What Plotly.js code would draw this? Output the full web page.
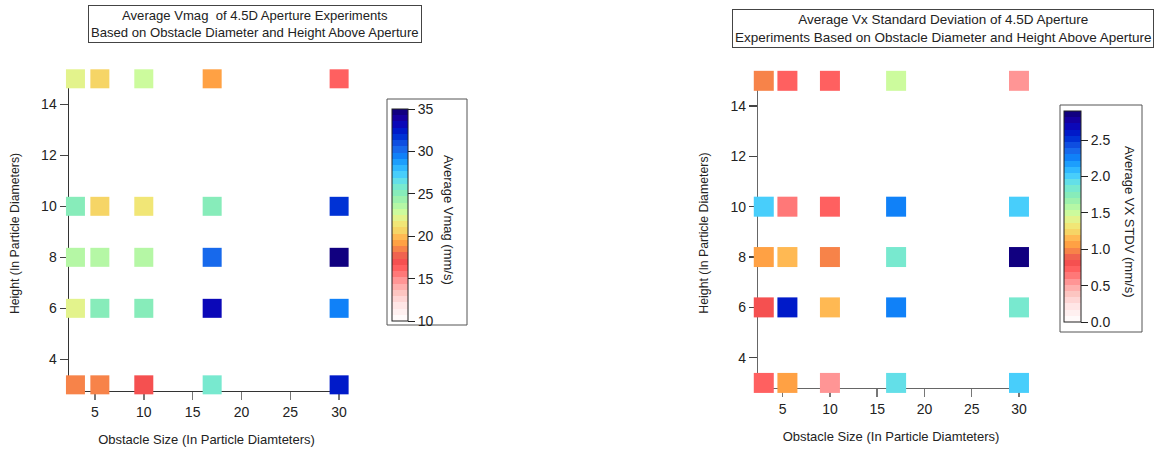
<!DOCTYPE html>
<html>
<head>
<meta charset="utf-8">
<script src="https://cdn.plot.ly/plotly-3.0.1.min.js"></script>
<style>
  html, body { margin: 0; padding: 0; background: #fff; }
  #chart { width: 1154px; height: 450px; }
</style>
</head>
<body>
<div id="chart"></div>
<script>
// ---- data ----
const obstacleSizes = [3, 5.5, 10, 17, 30];       // x, in particle diameters
const heights = [3, 6, 8, 10, 15];                 // y, height above aperture
// Average Vmag (mm/s), one row per height, columns follow obstacleSizes
const vmag = [
  [18.1, 18.1, 17.2, 25.5, 32.5],   // h = 3
  [22.2, 24.9, 24.9, 33.5, 29.5],   // h = 6
  [23.7, 23.7, 23.7, 30.3, 35.0],   // h = 8
  [24.9, 20.7, 21.5, 24.8, 31.8],   // h = 10
  [22.2, 20.7, 23.0, 19.0, 16.5]    // h = 15
];
// Average Vx standard deviation (mm/s)
const vxStdv = [
  [0.75, 1.04, 0.52, 1.94, 2.03],   // h = 3
  [0.84, 2.61, 1.16, 2.26, 1.87],   // h = 6
  [1.04, 1.16, 0.94, 1.80, 2.90],   // h = 8
  [2.03, 0.62, 0.75, 2.26, 2.03],   // h = 10
  [0.94, 0.75, 0.75, 1.49, 0.52]    // h = 15
];
const titleLeft = "Average Vmag\u00a0 of 4.5D Aperture Experiments<br>Based on Obstacle Diameter and Height Above Aperture";
const titleRight = "Average Vx Standard Deviation of 4.5D Aperture<br>Experiments Based on Obstacle Diameter and Height Above Aperture";
const xTitle = "Obstacle Size (In Particle Diamteters)";
const yTitle = "Height (In Particle Diameters)";
const cbTitleLeft = "Average Vmag (mm/s)";
const cbTitleRight = "Average VX STDV (mm/s)";

// ---- styling ----
const W = 1154, H = 450;
const FONT = "Liberation Sans, Arial, sans-serif";
const anchors = [
  [0.00, '#ffffff'], [0.08, '#ffe4e4'], [0.14, '#fcc0bc'], [0.18, '#ffa0a0'],
  [0.22, '#ff7878'], [0.26, '#ff5858'], [0.29, '#f04c4c'], [0.32, '#f07050'],
  [0.36, '#ff9a40'], [0.40, '#ffbc55'], [0.43, '#f5d868'], [0.46, '#f0e878'],
  [0.49, '#e0f590'], [0.52, '#c8fca0'], [0.56, '#a8f4a8'], [0.60, '#88ecb8'],
  [0.64, '#74e8d4'], [0.67, '#5cdcf0'], [0.70, '#40c8ff'], [0.74, '#20a8ff'],
  [0.78, '#1080f8'], [0.82, '#1a60e8'], [0.86, '#0038d8'], [0.90, '#0018c8'],
  [0.94, '#1000b0'], [0.97, '#1a0090'], [1.00, '#080070']
];
// stepped (banded) colour table like the original colour scale
function hex2rgb(h) { return [1, 3, 5].map(i => parseInt(h.substr(i, 2), 16)); }
function colorAt(t) {
  for (let i = 0; i < anchors.length - 1; i++) {
    const [t0, c0] = anchors[i], [t1, c1] = anchors[i + 1];
    if (t >= t0 && t <= t1) {
      const f = (t - t0) / (t1 - t0), a = hex2rgb(c0), b = hex2rgb(c1);
      return 'rgb(' + a.map((v, k) => Math.round(v + (b[k] - v) * f)).join(',') + ')';
    }
  }
  return anchors[anchors.length - 1][1];
}
const NBANDS = 34;
const scaleColors = [];
for (let k = 0; k < NBANDS; k++) {
  const c = colorAt((k + 0.5) / NBANDS);
  scaleColors.push([k / NBANDS, c], [(k + 1) / NBANDS, c]);
}

function flatten(grid) {
  const xs = [], ys = [], cs = [];
  heights.forEach((h, i) => {
    obstacleSizes.forEach((o, j) => { xs.push(o); ys.push(h); cs.push(grid[i][j]); });
  });
  return {xs, ys, cs};
}
const L = flatten(vmag), R = flatten(vxStdv);

function colorbar(x, xpad, yc, len, thick, tick0, dtick, fmt) {
  return {
    x: x / W, xanchor: 'left', xpad: xpad,
    y: 1 - yc / H, yanchor: 'middle', ypad: 0,
    len: len, lenmode: 'pixels', thickness: thick, thicknessmode: 'pixels',
    outlinecolor: '#222', outlinewidth: 1, borderwidth: 0,
    tickmode: 'linear', tick0: tick0, dtick: dtick, tickformat: fmt,
    ticks: 'outside', ticklen: 7, tickcolor: '#222',
    tickfont: {family: FONT, size: 14, color: '#222'}
  };
}

const traceL = {
  type: 'scatter', mode: 'markers', x: L.xs, y: L.ys, xaxis: 'x', yaxis: 'y',
  cliponaxis: false, hoverinfo: 'x+y+text', text: L.cs.map(String),
  marker: {
    symbol: 'square', size: 19, color: L.cs, cmin: 10, cmax: 35,
    colorscale: scaleColors, line: {width: 0},
    colorbar: colorbar(387, 5, 215, 212, 16, 10, 5, '')
  }
};
const traceR = {
  type: 'scatter', mode: 'markers', x: R.xs, y: R.ys, xaxis: 'x2', yaxis: 'y2',
  cliponaxis: false, hoverinfo: 'x+y+text', text: R.cs.map(String),
  marker: {
    symbol: 'square', size: 20, color: R.cs, cmin: 0, cmax: 2.9,
    colorscale: scaleColors, line: {width: 0},
    colorbar: colorbar(1060, 4, 216.5, 211, 17, 0, 0.5, '.1f')
  }
};

function xAxis(domain, range, anchor, color) {
  return {
    domain, range, anchor, showgrid: false, zeroline: false,
    showline: true, linecolor: color, linewidth: 1.5, layer: 'below traces',
    ticks: 'outside', ticklen: 8, tickcolor: '#777', tickwidth: 1.5,
    tickmode: 'linear', tick0: 0, dtick: 5,
    tickfont: {family: FONT, size: 14, color: '#222'},
    title: {text: xTitle, standoff: 16, font: {family: FONT, size: 13, color: '#222'}}
  };
}
function yAxis(domain, range, anchor, color) {
  return {
    domain, range, anchor, showgrid: false, zeroline: false,
    showline: true, linecolor: color, linewidth: 1.5, layer: 'below traces',
    ticks: 'outside', ticklen: 8, tickcolor: '#444', tickwidth: 1.5,
    tickmode: 'linear', tick0: 0, dtick: 2,
    tickfont: {family: FONT, size: 14, color: '#222'},
    title: {text: yTitle, standoff: 19, font: {family: FONT, size: 12.3, color: '#222'}}
  };
}

function box(x0, y0, x1, y1) {
  return {type: 'rect', xref: 'paper', yref: 'paper',
          x0: x0 / W, x1: x1 / W, y0: 1 - y1 / H, y1: 1 - y0 / H,
          line: {color: '#555', width: 1}, fillcolor: 'rgba(0,0,0,0)', layer: 'above'};
}
function cbTitle(text, xc, yc) {
  return {text: text, xref: 'paper', yref: 'paper', x: xc / W, y: 1 - yc / H,
          xanchor: 'center', yanchor: 'middle', showarrow: false, textangle: 90,
          font: {family: FONT, size: 13, color: '#222'}};
}

const layout = {
  width: W, height: H,
  margin: {l: 0, r: 0, t: 0, b: 0},
  paper_bgcolor: '#fff', plot_bgcolor: 'rgba(0,0,0,0)',
  showlegend: false,
  font: {family: FONT, color: '#222'},
  xaxis: xAxis([69 / W, 344 / W], [2.34, 30.5], 'y', '#333'),
  yaxis: yAxis([1 - 390.7 / H, 1 - 76.25 / H], [2.77, 15.1], 'x', '#333'),
  xaxis2: xAxis([758.3 / W, 1023.7 / W], [2.42, 30.5], 'y2', '#666'),
  yaxis2: yAxis([1 - 387.7 / H, 1 - 78.3 / H], [2.81, 15.1], 'x2', '#666'),
  shapes: [box(387, 99, 467, 325), box(1060, 105, 1142, 332)],
  annotations: [
    {text: titleLeft, xref: 'paper', yref: 'paper', x: 255 / W, y: 1 - 24.5 / H,
     xanchor: 'center', yanchor: 'middle', showarrow: false,
     font: {family: FONT, size: 13.1, color: '#222'},
     bordercolor: '#444', borderwidth: 1, borderpad: 2, bgcolor: '#fff'},
    {text: titleRight, xref: 'paper', yref: 'paper', x: 943 / W, y: 1 - 29 / H,
     xanchor: 'center', yanchor: 'middle', showarrow: false,
     font: {family: FONT, size: 13.5, color: '#222'},
     bordercolor: '#444', borderwidth: 1, borderpad: 2, bgcolor: '#fff'},
    cbTitle(cbTitleLeft, 449, 220),
    cbTitle(cbTitleRight, 1129, 221)
  ]
};

Plotly.newPlot('chart', [traceL, traceR], layout, {displayModeBar: false, staticPlot: true});
</script>
</body>
</html>
